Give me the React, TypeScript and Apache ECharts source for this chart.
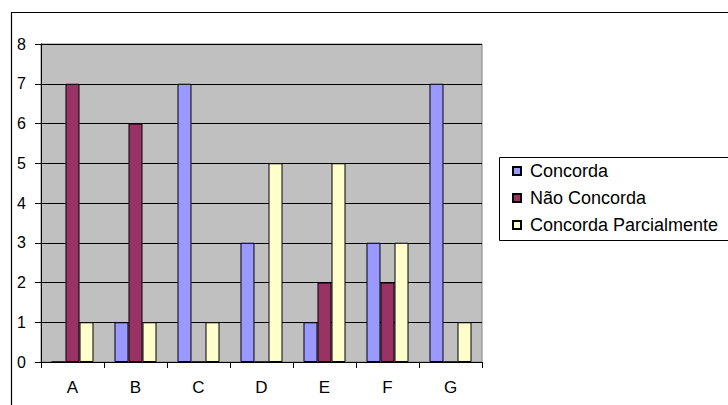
import React, { useEffect, useRef } from "react";
import * as echarts from "echarts";

const categories = ["A", "B", "C", "D", "E", "F", "G"];
const concorda = [0, 1, 7, 3, 1, 3, 7];
const naoConcorda = [7, 6, 0, 0, 2, 2, 0];
const parcialmente = [1, 1, 1, 5, 5, 3, 1];
const seriesNames = ["Concorda", "Não Concorda", "Concorda Parcialmente"];
const seriesColors = ["#9999FF", "#993366", "#FFFFCC"];

export default function App() {
  const ref = useRef<HTMLDivElement>(null);
  useEffect(() => {
    document.body.style.margin = "0";
    const chart = echarts.init(ref.current!, null, { renderer: "svg" });
    const font = "Arial, 'Liberation Sans', sans-serif";
    const data = [concorda, naoConcorda, parcialmente];
    chart.setOption({
      animation: false,
      backgroundColor: "#FFFFFF",
      textStyle: { fontFamily: font },
      graphic: [
        {
          type: "rect",
          z: -10,
          shape: { x: 11.5, y: 12.5, width: 800, height: 500 },
          style: { fill: "#FFFFFF", stroke: "#000000", lineWidth: 1.2 },
          silent: true,
        },
        {
          type: "rect",
          z: -5,
          shape: { x: 499.5, y: 157.5, width: 300, height: 83 },
          style: { fill: "#FFFFFF", stroke: "#000000", lineWidth: 1 },
          silent: true,
        },
      ],
      grid: {
        left: 41,
        top: 44,
        right: 246,
        bottom: 43,
        show: true,
        backgroundColor: "#C0C0C0",
        borderColor: "#808080",
        borderWidth: 1,
        containLabel: false,
      },
      legend: {
        orient: "vertical",
        left: 512,
        top: 162,
        padding: 0,
        itemWidth: 8,
        itemHeight: 8,
        itemGap: 9,
        icon: "rect",
        data: seriesNames,
        textStyle: { fontSize: 18, color: "#000000", fontFamily: font, padding: [0, 0, 0, 4] },
      },
      xAxis: {
        type: "category",
        data: categories,
        boundaryGap: true,
        axisLine: { show: true, lineStyle: { color: "#000000", width: 1 } },
        axisTick: { show: true, length: 6, interval: 0, lineStyle: { color: "#000000" } },
        axisLabel: { fontSize: 17, color: "#000000", margin: 17, fontFamily: font },
        splitLine: { show: false },
      },
      yAxis: {
        type: "value",
        min: 0,
        max: 8,
        interval: 1,
        axisLine: { show: true, lineStyle: { color: "#000000", width: 1 } },
        axisTick: { show: true, length: 6, lineStyle: { color: "#000000" } },
        axisLabel: { fontSize: 16, color: "#000000", margin: 15, fontFamily: font },
        splitLine: { show: true, lineStyle: { color: "#000000", width: 1 } },
      },
      series: seriesNames.map((name, i) => ({
        name,
        type: "bar",
        data: data[i],
        barGap: "0%",
        barCategoryGap: "33.3%",
        itemStyle: { color: seriesColors[i], borderColor: "#000000", borderWidth: 1 },
      })),
    });
    return () => chart.dispose();
  }, []);
  return <div ref={ref} style={{ width: 728, height: 405 }} />;
}
